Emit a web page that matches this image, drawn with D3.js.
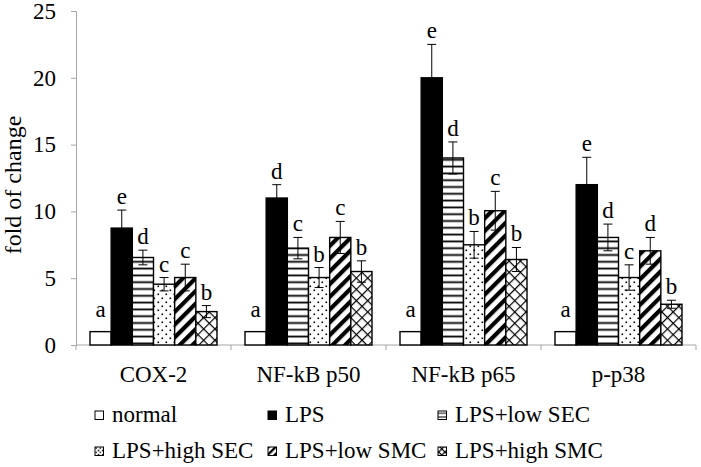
<!DOCTYPE html>
<html><head><meta charset="utf-8">
<script src="https://cdn.jsdelivr.net/npm/d3@7"></script>
<style>body{margin:0;background:#fff}</style>
</head><body><svg id="c" width="701" height="467"></svg>
<script>
const categories = ["COX-2","NF-kB p50","NF-kB p65","p-p38"];
const series = ["normal","LPS","LPS+low SEC","LPS+high SEC","LPS+low SMC","LPS+high SMC"];
const normalVals = [1,1,1,1];
const lpsVals = [8.75,11,20,12];
const lowSecVals = [6.55,7.25,14,8.05];
const highSecVals = [4.55,5.05,7.5,5.05];
const lowSmcVals = [5.05,8.05,10.05,7.05];
const highSmcVals = [2.5,5.5,6.4,3.05];
const normalErr = [0,0,0,0];
const lpsErr = [1.35,1.0,2.5,2.05];
const lowSecErr = [0.55,0.8,1.2,1.0];
const highSecErr = [0.5,0.75,1.0,0.95];
const lowSmcErr = [1.0,1.2,1.45,1.0];
const highSmcErr = [0.45,0.8,0.9,0.3];
const letters = [["a","e","d","c","c","b"],["a","d","c","b","c","b"],["a","e","d","b","c","b"],["a","e","d","c","d","b"]];
const yTicks = [0,5,10,15,20,25];

const vals = [normalVals,lpsVals,lowSecVals,highSecVals,lowSmcVals,highSmcVals];
const errs = [normalErr,lpsErr,lowSecErr,highSecErr,lowSmcErr,highSmcErr];
const FONT = '"Liberation Serif", "Times New Roman", serif';

const svg = d3.select("#c");
const defs = svg.append("defs");
function makePatterns(prefix, s){
  let p = defs.append("pattern").attr("id",prefix+"h").attr("patternUnits","userSpaceOnUse").attr("width",8).attr("height",6.8*s);
  p.append("rect").attr("width",8).attr("height",6.8*s).attr("fill","#fff");
  p.append("rect").attr("y",2.5*s).attr("width",8).attr("height",1.8*s).attr("fill","#000");
  p = defs.append("pattern").attr("id",prefix+"d").attr("patternUnits","userSpaceOnUse").attr("width",8*s).attr("height",8*s);
  p.append("rect").attr("width",8*s).attr("height",8*s).attr("fill","#fff");
  p.append("rect").attr("x",1.5*s).attr("y",1.5*s).attr("width",1.6).attr("height",1.6).attr("fill","#000");
  p.append("rect").attr("x",5.5*s).attr("y",5.5*s).attr("width",1.6).attr("height",1.6).attr("fill","#000");
  p = defs.append("pattern").attr("id",prefix+"s").attr("patternUnits","userSpaceOnUse").attr("width",9*s).attr("height",9*s).attr("patternTransform","rotate(45)");
  p.append("rect").attr("width",9*s).attr("height",9*s).attr("fill","#fff");
  p.append("rect").attr("width",4.2*s).attr("height",9*s).attr("fill","#000");
  p = defs.append("pattern").attr("id",prefix+"x").attr("patternUnits","userSpaceOnUse").attr("width",8*s).attr("height",8*s).attr("patternTransform","rotate(45)");
  p.append("rect").attr("width",8*s).attr("height",8*s).attr("fill","#fff");
  p.append("rect").attr("width",1.2).attr("height",8*s).attr("fill","#000");
  p.append("rect").attr("width",8*s).attr("height",1.2).attr("fill","#000");
}
makePatterns("b",1);
makePatterns("l",0.55);
const fills = p => ["#fff","#000","url(#"+p+"h)","url(#"+p+"d)","url(#"+p+"s)","url(#"+p+"x)"];

const x0 = d3.scaleBand().domain(categories).range([76,696]).padding(0);
const x1 = d3.scaleBand().domain(series).range([14,141]);
const y = d3.scaleLinear().domain([0,25]).range([345,11]);

// y axis
const gy = svg.append("g").attr("transform","translate(76,0)")
  .call(d3.axisLeft(y).tickValues(yTicks).tickSize(5).tickPadding(15).tickFormat(d3.format("d")));
gy.select(".domain").attr("stroke","#a6a6a6");
gy.selectAll(".tick line").attr("stroke","#a6a6a6");
gy.selectAll(".tick text").style("font-family",FONT).style("font-size","23px").attr("fill","#000");

// x axis
const gx = svg.append("g").attr("transform","translate(0,345)");
gx.append("line").attr("x1",76).attr("x2",696).attr("stroke","#a6a6a6");
gx.selectAll("line.t").data(categories.concat(["end"])).enter().append("line")
  .attr("x1",(d,i)=>x0.range()[0]+i*x0.bandwidth()).attr("x2",(d,i)=>x0.range()[0]+i*x0.bandwidth())
  .attr("y1",0).attr("y2",5).attr("stroke","#a6a6a6");
gx.selectAll("text").data(categories).enter().append("text")
  .attr("x",d=>x0(d)+x0.bandwidth()/2).attr("y",37).attr("text-anchor","middle")
  .style("font-family",FONT).style("font-size","23px").text(d=>d);

// bars
const bf = fills("b");
categories.forEach((c,ci)=>{
  series.forEach((s,si)=>{
    const v = vals[si][ci], e = errs[si][ci];
    const bx = x0(c)+x1(s), bw = x1.bandwidth();
    svg.append("rect").attr("x",bx).attr("y",y(v)).attr("width",bw).attr("height",y(0)-y(v))
      .attr("fill",bf[si]).attr("stroke","#000").attr("stroke-width",1.4);
    const cx = bx+bw/2;
    if(e>0){
      svg.append("line").attr("x1",cx).attr("x2",cx).attr("y1",y(v-e)).attr("y2",y(v+e)).attr("stroke","#000").attr("stroke-width",1);
      [v-e,v+e].forEach(t=>svg.append("line").attr("x1",cx-4.5).attr("x2",cx+4.5).attr("y1",y(t)).attr("y2",y(t)).attr("stroke","#000").attr("stroke-width",1));
    }
    svg.append("text").attr("x",cx).attr("y",y(v+e)-(e>0?6:15)).attr("text-anchor","middle")
      .style("font-family",FONT).style("font-size","23px").text(letters[ci][si]);
  });
});

// y label
svg.append("text").attr("transform","translate(21,185) rotate(-90)").attr("text-anchor","middle")
  .style("font-family",FONT).style("font-size","24px").text("fold of change");

// legend
const lf = fills("l");
const colX = [95,268,438];
const rowY = [422,458];
series.forEach((s,i)=>{
  const cx = colX[i%3], ry = rowY[Math.floor(i/3)];
  svg.append("rect").attr("x",cx).attr("y",ry-11).attr("width",8.5).attr("height",8.5)
    .attr("fill",lf[i]).attr("stroke","#000").attr("stroke-width",1);
  svg.append("text").attr("x",cx+17).attr("y",ry).style("font-family",FONT).style("font-size","23px").text(s);
});
</script></body></html>
